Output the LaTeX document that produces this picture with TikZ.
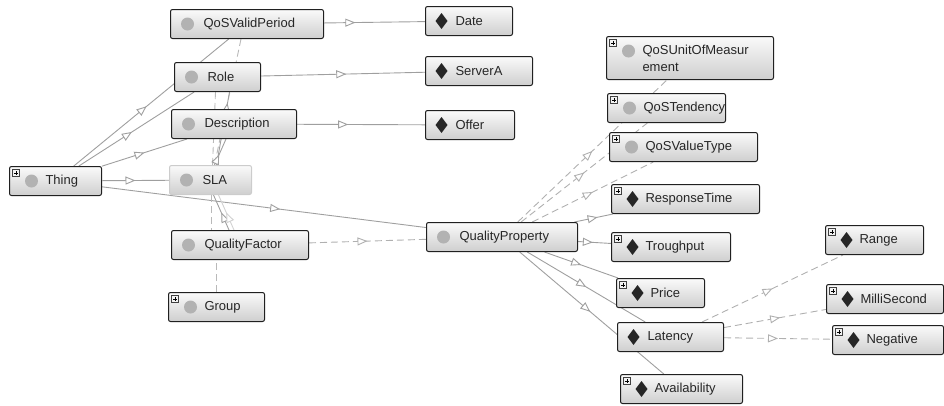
\documentclass[tikz,border=0pt]{standalone}
\usepackage{fontspec}
\setmainfont{Liberation Sans}
\usepackage{tikz}
\usetikzlibrary{arrows.meta,decorations.markings,backgrounds}
\newcommand{\classdot}[1]{\fill[gray!60] ([xshift=#1,yshift=-14.5pt]path picture bounding box.north west) circle (6.5pt);}
\newcommand{\indivmark}[1]{\fill[sharp corners, black!85] ([xshift=#1,yshift=-6.5pt]path picture bounding box.north west) -- ++(6pt,-8pt) -- ++(-6pt,-8pt) -- ++(-6pt,8pt) -- cycle;}
\newcommand{\plusmark}{\draw[sharp corners, gray!50!black, line width=0.5pt, fill=gray!10] ([xshift=3pt,yshift=-3pt]path picture bounding box.north west) rectangle ++(7pt,-7pt);
  \draw[sharp corners, black, line width=0.8pt] ([xshift=4.5pt,yshift=-6.5pt]path picture bounding box.north west) -- ++(4pt,0pt)
    ([xshift=6.5pt,yshift=-4.5pt]path picture bounding box.north west) -- ++(0pt,-4pt);}
\tikzset{box/.style={anchor=west, draw=gray!25!black, line width=1pt, rounded corners=2pt,
    top color=gray!4, bottom color=gray!38, minimum height=29pt,
    inner xsep=0pt, inner ysep=1pt, align=left, text=black!85,
    font=\fontsize{13}{17}\selectfont},
  klass/.style={box, text width=#1, execute at begin node={\noindent\hspace*{33pt}},
    path picture={\classdot{17pt}}},
  klassplus/.style={box, text width=#1, execute at begin node={\noindent\hspace*{36pt}},
    path picture={\classdot{22pt}\plusmark}},
  indiv/.style={box, text width=#1, execute at begin node={\noindent\hspace*{30pt}},
    path picture={\indivmark{16pt}}},
  indivplus/.style={box, text width=#1, execute at begin node={\noindent\hspace*{34pt}},
    path picture={\indivmark{21pt}\plusmark}},
%edges: solid with open triangle half way, dashed ones for relations
  isa/.style={draw=gray!75, line width=0.9pt, postaction={decorate},
    decoration={markings, mark=at position #1 with {\arrow{Triangle[fill=white, length=10pt, width=8pt]}}}},
  isa/.default=0.5,
  link/.style={isa=#1, draw=gray!62, dash pattern=on 7pt off 4pt},
  link/.default=0.5,
  rel/.style={draw=gray!55, line width=0.9pt, dash pattern=on 7pt off 4pt}}

\begin{document}
\begin{tikzpicture}[x=1pt, y=-1pt]
\useasboundingbox (0,0) rectangle (944,405);

\node[klass=153pt] (qvp) at (170,24) {QoSValidPeriod};
\node[indiv=87pt] (date) at (425,21) {Date};
\node[klass=86pt] (role) at (174,77) {Role};
\node[indiv=107pt] (servera) at (425,71) {ServerA};
\node[klass=125pt] (desc) at (171,124) {Description};
\node[indiv=89pt] (offer) at (425,125) {Offer};
\node[klassplus=92pt] (thing) at (9,181) {Thing};
\node[klass=82pt, draw=gray!40] (sla) at (169,180) {SLA};
\node[klass=137pt] (qf) at (171,245) {QualityFactor};
\node[klassplus=96pt] (group) at (168,307) {Group};
\node[klass=151pt] (qp) at (426,237) {QualityProperty};

\node[klassplus=167pt, minimum height=43pt] (qosunit) at (606,58) {QoSUnitOfMeasur\\\hspace*{36pt}ement};
\node[klassplus=118pt] (qost) at (607,108) {QoSTendency};
\node[klassplus=148pt] (qosvt) at (609,147) {QoSValueType};
\node[indivplus=148pt] (resp) at (611,199) {ResponseTime};
\node[indivplus=119pt] (trough) at (611,247) {Troughput};
\node[indivplus=88pt] (price) at (616,293) {Price};
\node[indiv=106pt] (latency) at (617,337) {Latency};
\node[indivplus=122pt] (avail) at (620,389) {Availability};
\node[indivplus=98pt] (range) at (825,240) {Range};
\node[indivplus=117pt] (milli) at (826,299) {MilliSecond};
\node[indivplus=111pt] (negative) at (832,340) {Negative};

\begin{scope}[on background layer]
\draw[isa=0.31] (qvp) -- (date);
\draw[isa=0.52] (role) -- (servera);
\draw[isa=0.4] (desc) -- (offer);
\draw[isa] (thing) -- (sla);
\draw[isa=0.47] (thing) -- (qvp);
\draw[isa=0.46] (thing) -- (role);
\draw[isa] (thing) -- (desc);
\draw[isa=0.55] (thing) -- (qp);
\draw[link] (qf) -- (qp);

% the SLA column
\draw[rel] ([xshift=-6pt]qvp.south) -- ([xshift=4pt]sla.north);
\draw[rel] ([xshift=-2pt]role.south) -- ([xshift=2pt]sla.north);
\draw[isa=0.85] ([xshift=6pt]sla.north) -- ([xshift=12pt]role.south);
\draw[isa=0.4] ([xshift=4pt]sla.north) -- ([xshift=-8pt]desc.south);
\draw[rel] ([xshift=1pt]sla.south) -- ([xshift=1pt]sla.south |- qf.north);
\draw[isa] ([xshift=-11pt]qf.north) -- ([xshift=3pt]sla.south);
\draw[isa, draw=gray!35] ([xshift=-6pt]qf.north) -- ([xshift=8pt]sla.south);
\draw[rel] (group.north) -- (group.north |- qf.south);

\draw[link] (qp) -- (qosunit);
\draw[link] (qp) -- (qost);
\draw[link] (qp) -- (qosvt);
\draw[isa=0.6] (qp) -- (resp);
\draw[isa=0.45] (qp) -- (trough);
\draw[isa] (qp) -- (price);
\draw[isa] (qp) -- (latency);
\draw[isa=0.49] (qp) -- (avail);
\draw[link] (latency) -- (range);
\draw[link=0.55] (latency) -- (milli);
\draw[link] (latency) -- (negative);
\end{scope}

\end{tikzpicture}
\end{document}
